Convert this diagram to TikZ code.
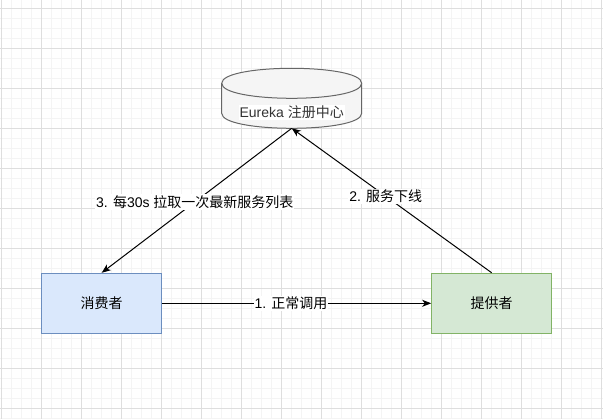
\documentclass[tikz,border=0pt]{standalone}
\usepackage{fontspec}
\setmainfont{Liberation Sans}
\newfontfamily\cjk{Noto Sans CJK SC}
\usetikzlibrary{arrows.meta}
\definecolor{gridmajor}{HTML}{DEDEDE}
\definecolor{gridminor}{HTML}{F4F4F4}
\definecolor{cylfill}{HTML}{F5F5F5}
\definecolor{cylline}{HTML}{666666}
\definecolor{cyltext}{HTML}{333333}
\definecolor{bluefill}{HTML}{DAE8FC}
\definecolor{blueline}{HTML}{6C8EBF}
\definecolor{greenfill}{HTML}{D5E8D4}
\definecolor{greenline}{HTML}{82B366}
\tikzset{
  boxnode/.style={rectangle, minimum width=120pt, minimum height=60pt, line width=1pt, inner sep=0pt},
  conn/.style={line width=1pt, -{Stealth[length=9pt,width=7pt,inset=2.5pt]}},
  lbl/.style={fill=white, inner sep=1pt, text=black},
}
\begin{document}
\begin{tikzpicture}[x=1pt,y=-1pt,font=\fontsize{14}{16}\selectfont]
\useasboundingbox (0,0) rectangle (603,419);
\fill[white] (0,0) rectangle (603,419);
\foreach \i in {0,...,60} \draw[gridminor, line width=1pt] (1.7+10*\i,0) -- (1.7+10*\i,419);
\foreach \i in {0,...,41} \draw[gridminor, line width=1pt] (0,8.3+10*\i) -- (603,8.3+10*\i);
\foreach \i in {0,...,15} \draw[gridmajor, line width=1pt] (1.7+40*\i,0) -- (1.7+40*\i,419);
\foreach \i in {0,...,10} \draw[gridmajor, line width=1pt] (0,8.3+40*\i) -- (603,8.3+40*\i);

% cylinder
\filldraw[fill=cylfill, draw=cylline, line width=1pt]
  (221.7,83.3) .. controls (221.7,63.3) and (361.7,63.3) .. (361.7,83.3)
  -- (361.7,113.3) .. controls (361.7,133.3) and (221.7,133.3) .. (221.7,113.3) -- cycle;
\draw[cylline, line width=1pt] (221.7,83.3) .. controls (221.7,103.3) and (361.7,103.3) .. (361.7,83.3);
\node[fill=white, inner sep=1pt, text=cyltext] (eureka) at (291.7,112.5) {Eureka {\cjk 注册中心}};
\coordinate (eurekabottom) at (291.7,128.3);

\node[boxnode, fill=bluefill, draw=blueline] (consumer) at (101.7,303.3) {\cjk 消费者};
\node[boxnode, fill=greenfill, draw=greenline] (provider) at (491.7,303.3) {\cjk 提供者};

\draw[conn] (consumer.east) -- node[lbl, pos=0.479] (l1) {1. {\cjk 正常调用}} (provider.west);
\draw[conn] (provider.north) -- node[lbl, pos=0.53] (l2) {2. {\cjk 服务下线}} (eurekabottom);
\draw[conn] (eurekabottom) -- node[lbl, pos=0.51] (l3) {3. {\cjk 每}30s {\cjk 拉取一次最新服务列表}} (consumer.north);
\end{tikzpicture}
\end{document}
